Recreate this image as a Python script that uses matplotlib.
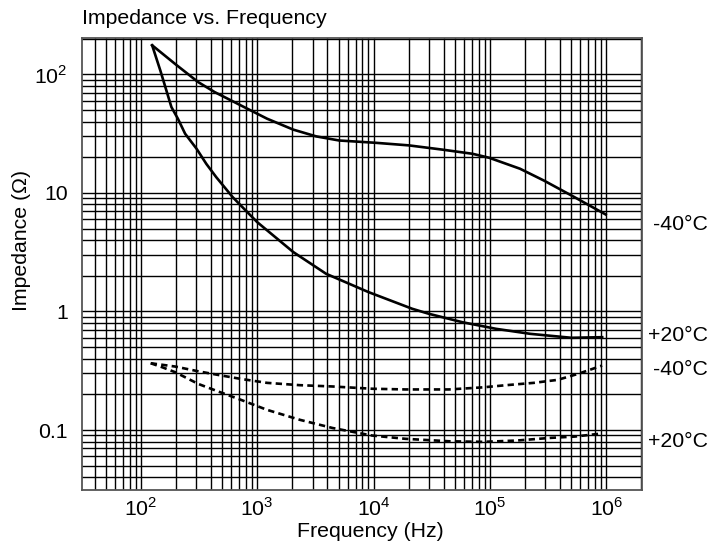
import matplotlib
matplotlib.use("Agg")
import matplotlib.pyplot as plt
import matplotlib.transforms as mtransforms
from matplotlib.ticker import FixedLocator, FixedFormatter, LogLocator, NullFormatter

plt.rcParams['font.family'] = ['Liberation Sans', 'DejaVu Sans']
plt.rcParams['mathtext.fontset'] = 'custom'
plt.rcParams['mathtext.rm'] = 'Liberation Sans'

# ---- data ----
f_m40_solid = [125, 198, 311, 431, 772, 1215, 2043, 3214, 5058, 10340, 20050,
               38990, 70800, 98600, 181500, 292000, 501000, 989000]
z_m40_solid = [176, 122, 86.1, 70.9, 53.0, 42.3, 34.2, 30.0, 27.7, 26.5, 25.2,
               23.2, 21.4, 19.8, 16.0, 12.7, 9.53, 6.58]

f_p20_solid = [125, 147.5, 183, 208, 240, 301, 365, 444, 615, 746, 1000, 2043,
               3908, 9080, 21500, 29900, 58000, 113000, 222000, 501000, 922000]
z_p20_solid = [176, 106.6, 53.0, 42.3, 31.6, 23.6, 17.6, 13.6, 9.22, 7.59, 5.67, 3.17,
               2.08, 1.455, 1.054, 0.956, 0.812, 0.714, 0.648, 0.600, 0.607]

f_m40_dash = [121.5, 198, 311, 459, 722, 1215, 2323, 4446, 9680, 18800, 44500,
              86500, 138000, 238000, 382000, 574000, 921000]
z_m40_dash = [0.366, 0.343, 0.313, 0.292, 0.270, 0.250, 0.239, 0.233, 0.223, 0.220,
              0.220, 0.229, 0.239, 0.250, 0.265, 0.298, 0.350]

f_p20_dash = [121.5, 152, 198, 311, 459, 722, 1215, 2323, 4446, 9680, 18800, 44500,
              86500, 169000, 333000, 537000, 863000]
z_p20_dash = [0.366, 0.339, 0.307, 0.245, 0.212, 0.180, 0.148, 0.122, 0.104, 0.0899,
              0.0843, 0.0804, 0.0795, 0.0815, 0.0859, 0.0881, 0.0929]

x_ticks = [1e2, 1e3, 1e4, 1e5, 1e6]
x_tick_labels = [r'$10^2$', r'$10^3$', r'$10^4$', r'$10^5$', r'$10^6$']
y_ticks = [0.1, 1, 10, 100]
y_tick_labels = ['0.1', '1', '10', r'$10^2$']

curve_labels = ['-40°C', '+20°C', '-40°C', '+20°C']
curve_label_z = [5.42, 0.627, 0.321, 0.080]

title = 'Impedance vs. Frequency'
xlabel = 'Frequency (Hz)'
ylabel = 'Impedance (Ω)'

FS = 15.3

# ---- figure ----
fig = plt.figure(figsize=(7.10, 5.42), dpi=100)
ax = fig.add_axes([81.7/710, 1 - 490/542, (642.3-81.7)/710, (490-37.7)/542])
ax.set_xscale('log')
ax.set_yscale('log')
ax.set_xlim(31, 2.04e6)
ax.set_ylim(0.0312, 204)

lw_curve = 1.9
ax.plot(f_m40_solid, z_m40_solid, color='black', lw=lw_curve, zorder=5)
ax.plot(f_p20_solid, z_p20_solid, color='black', lw=lw_curve, zorder=5)
ax.plot(f_m40_dash, z_m40_dash, color='black', lw=lw_curve, dashes=(2.4, 1.6), zorder=5)
ax.plot(f_p20_dash, z_p20_dash, color='black', lw=lw_curve, dashes=(2.4, 1.6), zorder=5)

ax.xaxis.set_major_locator(FixedLocator(x_ticks))
ax.xaxis.set_major_formatter(FixedFormatter(x_tick_labels))
ax.yaxis.set_major_locator(FixedLocator(y_ticks))
ax.yaxis.set_major_formatter(FixedFormatter(y_tick_labels))
ax.xaxis.set_minor_locator(LogLocator(base=10, subs=range(2, 10), numticks=20))
ax.yaxis.set_minor_locator(LogLocator(base=10, subs=range(2, 10), numticks=20))
ax.xaxis.set_minor_formatter(NullFormatter())
ax.yaxis.set_minor_formatter(NullFormatter())

ax.grid(True, which='both', color='black', lw=1.0)
ax.tick_params(which='both', length=0)
ax.tick_params(axis='y', pad=10, labelsize=FS)
ax.tick_params(axis='x', pad=5, labelsize=FS)
for s in ax.spines.values():
    s.set_color('#555555')
    s.set_linewidth(1.3)

ax.set_xlabel(xlabel, fontsize=FS)
ax.xaxis.set_label_coords((370.5-81.7)/(642.3-81.7), -(531.7-490)/(490-37.7), transform=ax.transAxes)
ax.xaxis.label.set_va('center')
ax.set_ylabel(ylabel, fontsize=FS)
ax.yaxis.set_label_coords(-(81.7-21.7)/(642.3-81.7), (490-240)/(490-37.7), transform=ax.transAxes)
ax.yaxis.label.set_va('center')

fig.text(81.7/710, 1 - 18.3/542, title, fontsize=FS, ha='left', va='center')

trans = mtransforms.blended_transform_factory(fig.transFigure, ax.transData)
for lab, z in zip(curve_labels, curve_label_z):
    ax.text(708/710, z, lab, transform=trans, ha='right', va='center', fontsize=FS, clip_on=False)

fig.savefig('out.png', dpi=100)
